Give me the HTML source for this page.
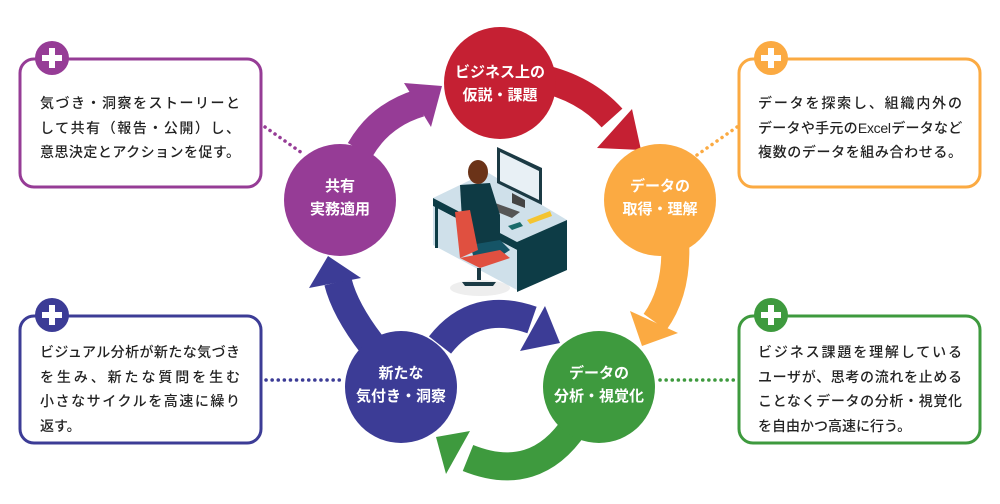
<!DOCTYPE html>
<html><head><meta charset="utf-8"><style>
body{margin:0;background:#fff;}
.t{position:absolute;font-family:"Liberation Sans","Noto Sans CJK JP",sans-serif;font-size:14px;color:#222;line-height:24.5px;font-weight:500;width:200px}
.t div{text-align:justify;text-align-last:justify;white-space:nowrap}
.t div.l{text-align-last:left}
.c{font-family:"Liberation Sans","Noto Sans CJK JP",sans-serif;font-weight:bold;fill:#fff;font-size:15px;text-anchor:middle}
</style></head><body>
<div style="position:relative;width:1000px;height:504px;overflow:hidden">
<svg width="1000" height="504" style="position:absolute;left:0;top:0">
<g fill="none" stroke-width="3">
<rect x="20" y="59" width="241" height="128" rx="14" stroke="#963c96"/>
<rect x="20" y="316" width="241" height="127" rx="14" stroke="#3c3c96"/>
<rect x="739" y="59" width="241" height="128" rx="14" stroke="#fbaa42"/>
<rect x="739" y="316" width="241" height="127" rx="14" stroke="#3e9a3e"/>
</g>
<g stroke-width="3.5" stroke-dasharray="0.1 6" stroke-linecap="round" fill="none">
<line x1="265" y1="127" x2="302" y2="153" stroke="#963c96"/>
<line x1="697" y1="155" x2="737" y2="127" stroke="#fbaa42"/>
<line x1="266" y1="380" x2="340" y2="380" stroke="#3c3c96"/>
<line x1="660" y1="380" x2="737" y2="380" stroke="#3e9a3e"/>
</g>
<g>
<circle cx="52" cy="58" r="17" fill="#963c96"/><circle cx="771" cy="58" r="17" fill="#fbaa42"/>
<circle cx="52" cy="315" r="17" fill="#3c3c96"/><circle cx="771" cy="315" r="17" fill="#3e9a3e"/>
</g>
<g fill="#fff">
<rect x="42" y="55" width="20" height="6"/><rect x="49" y="48" width="6" height="20"/>
<rect x="761" y="55" width="20" height="6"/><rect x="768" y="48" width="6" height="20"/>
<rect x="42" y="312" width="20" height="6"/><rect x="49" y="305" width="6" height="20"/>
<rect x="761" y="312" width="20" height="6"/><rect x="768" y="305" width="6" height="20"/>
</g>
<g fill="none" stroke-width="28">
<path d="M540 78 Q585 88 612 118" stroke="#c52033"/>
<path d="M360 150 Q380 115 420 103" stroke="#963c96"/>
<path d="M675 240 Q678 290 655 322" stroke="#fbaa42"/>
<path d="M372 345 Q345 310 338 282" stroke="#3c3c96"/>
<path d="M440 345 Q475 300 532 320" stroke="#3c3c96"/>
<path d="M575 425 Q535 485 468 458" stroke="#3e9a3e"/>
</g>
<polygon points="597,148 632,109 641,150" fill="#c52033"/>
<polygon points="404,83 442,86 431,127" fill="#963c96"/>
<polygon points="630,311 678,333 642,346" fill="#fbaa42"/>
<polygon points="309,288 361,278 328,256" fill="#3c3c96"/>
<polygon points="545,306 520,351 560,343" fill="#3c3c96"/>
<polygon points="470,431 446,474 436,437" fill="#3e9a3e"/>
<circle cx="500" cy="83" r="56" fill="#c52033"/>
<circle cx="340" cy="200" r="56" fill="#963c96"/>
<circle cx="660" cy="200" r="56" fill="#fbaa42"/>
<circle cx="401" cy="387" r="56" fill="#3c3c96"/>
<circle cx="599" cy="387" r="56" fill="#3e9a3e"/>
<text class="c" x="500" y="77">ビジネス上の</text><text class="c" x="500" y="100">仮説・課題</text>
<text class="c" x="340" y="191">共有</text><text class="c" x="340" y="214">実務適用</text>
<text class="c" x="660" y="191">データの</text><text class="c" x="660" y="214">取得・理解</text>
<text class="c" x="401" y="378">新たな</text><text class="c" x="401" y="401">気付き・洞察</text>
<text class="c" x="599" y="378">データの</text><text class="c" x="599" y="401">分析・視覚化</text>
<ellipse cx="480" cy="288" rx="30" ry="8" fill="#eee"/>
<polygon points="433,198 487,172 567,220 517,242" fill="#cfe0ea"/>
<polygon points="433,198 517,242 517,250 433,206" fill="#0d3c46"/>
<polygon points="433,206 517,250 517,290 433,245" fill="#cfe0ea"/>
<polygon points="517,242 567,220 567,270 517,292" fill="#0d3c46"/>
<rect x="435" y="206" width="3" height="42" fill="#0d3c46"/>
<polygon points="497,147 542,168 542,205 497,183" fill="#1b3a44"/>
<polygon points="500,152 539,171 539,200 500,181" fill="#e8f0f5"/>
<polygon points="512,193 525,200 525,208 512,203" fill="#444"/>
<polygon points="495,203 520,212 512,218 490,209" fill="#555"/>
<polygon points="527,220 550,211 552,216 530,224" fill="#f4c430"/>
<polygon points="508,226 520,222 523,226 512,230" fill="#1a6b6b"/>
<polygon points="460,185 490,183 500,215 500,250 470,245 462,220" fill="#0e3a44"/>
<ellipse cx="478" cy="172" rx="10" ry="12" fill="#6b3318"/>
<polygon points="470,245 500,240 510,250 495,260 475,262" fill="#155466"/>
<polygon points="455,212 470,210 478,250 460,258" fill="#e05040"/>
<polygon points="460,258 500,250 510,258 480,268" fill="#e05040"/>
<rect x="477" y="268" width="4" height="12" fill="#1b3a44"/>
<polygon points="462,282 496,282 493,286 465,286" fill="#1b3a44"/>
</svg>
<div class="t" style="left:40px;top:91px"><div>気づき・洞察をストーリーと</div><div>して共有（報告・公開）し、</div><div>意思決定とアクションを促す。</div></div>
<div class="t" style="left:40px;top:340px"><div>ビジュアル分析が新たな気づき</div><div>を生み、新たな質問を生む</div><div>小さなサイクルを高速に繰り</div><div class="l">返す。</div></div>
<div class="t" style="left:758px;top:91px;width:204px"><div>データを探索し、組織内外の</div><div style="letter-spacing:-0.3px">データや手元のExcelデータなど</div><div>複数のデータを組み合わせる。</div></div>
<div class="t" style="left:758px;top:340px;width:204px"><div>ビジネス課題を理解している</div><div>ユーザが、思考の流れを止める</div><div>ことなくデータの分析・視覚化</div><div class="l">を自由かつ高速に行う。</div></div>
</div>
</body></html>
